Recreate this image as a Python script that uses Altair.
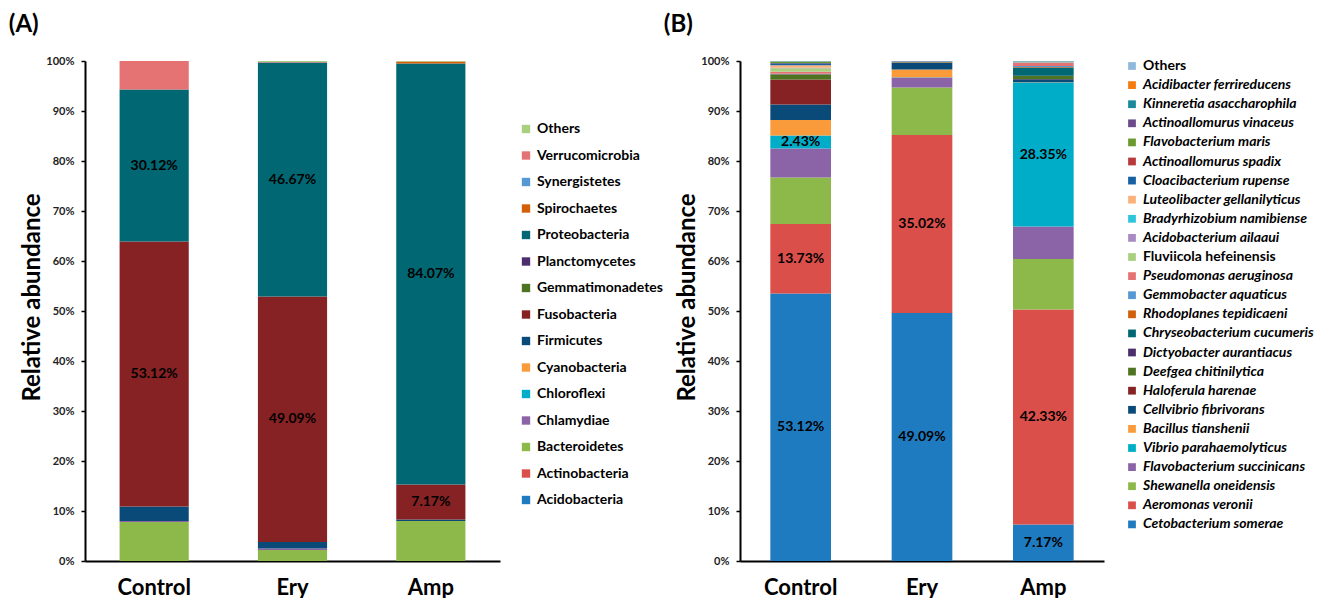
import altair as alt
import pandas as pd

FONT = "Lato"

samples = ["Control", "Ery", "Amp"]

# ---------- Panel A (phylum level), bottom -> top ----------
phyla = ["Acidobacteria", "Actinobacteria", "Bacteroidetes", "Chlamydiae", "Chloroflexi",
         "Cyanobacteria", "Firmicutes", "Fusobacteria", "Gemmatimonadetes", "Planctomycetes",
         "Proteobacteria", "Spirochaetes", "Synergistetes", "Verrucomicrobia", "Others"]
phyla_colors = ["#1F7BC0", "#DA4F4A", "#8DB84A", "#8B64A8", "#00ADC8",
                "#F99A3B", "#0A4A78", "#862224", "#4E7422", "#4B2E6B",
                "#006773", "#D25F0A", "#5598D3", "#E57373", "#A8D080"]
a_control = [0, 0, 7.8, 0.2, 0, 0, 2.9, 53.0, 0, 0, 30.4, 0, 0, 5.7, 0]
a_ery = [0, 0, 2.2, 0.3, 0, 0, 1.3, 49.1, 0, 0, 46.8, 0, 0, 0.1, 0.2]
a_amp = [0, 0, 8.0, 0, 0, 0, 0.3, 7.0, 0, 0, 84.2, 0.4, 0, 0, 0.1]
a_label_sample = ["Control", "Control", "Ery", "Ery", "Amp", "Amp"]
a_label_taxon = ["Fusobacteria", "Proteobacteria", "Fusobacteria", "Proteobacteria",
                 "Fusobacteria", "Proteobacteria"]
a_label_text = ["53.12%", "30.12%", "49.09%", "46.67%", "7.17%", "84.07%"]

# ---------- Panel B (species level), bottom -> top ----------
species = ["Cetobacterium somerae", "Aeromonas veronii", "Shewanella oneidensis",
           "Flavobacterium succinicans", "Vibrio parahaemolyticus", "Bacillus tianshenii",
           "Cellvibrio fibrivorans", "Haloferula harenae", "Deefgea chitinilytica",
           "Dictyobacter aurantiacus", "Chryseobacterium cucumeris", "Rhodoplanes tepidicaeni",
           "Gemmobacter aquaticus", "Pseudomonas aeruginosa", "Fluviicola hefeinensis",
           "Acidobacterium ailaaui", "Bradyrhizobium namibiense", "Luteolibacter gellanilyticus",
           "Cloacibacterium rupense", "Actinoallomurus spadix", "Flavobacterium maris",
           "Actinoallomurus vinaceus", "Kinneretia asaccharophila", "Acidibacter ferrireducens",
           "Others"]
species_colors = ["#1F7BC0", "#DA4F4A", "#8DB84A", "#8B64A8", "#00ADC8", "#F99A3B",
                  "#0A4A78", "#862224", "#4E7422", "#4B2E6B", "#006773", "#D25F0A",
                  "#5598D3", "#E57373", "#A8D080", "#A88BC4", "#2EC4DC", "#FDB07A",
                  "#1661A4", "#B83A3A", "#6A9A2E", "#6A4A8A", "#1A8A9A", "#F57A10",
                  "#8FB8DD"]
b_control = [53.5, 13.9, 9.3, 5.8, 2.6, 3.1, 3.1, 5.0, 0.9, 0.05, 0.1, 0.05, 0.05,
             0.4, 0.7, 0.05, 0.05, 0.5, 0.4, 0.05, 0.3, 0.02, 0.03, 0.02, 0.03]
b_ery = [49.6, 35.6, 9.5, 2.0, 0.05, 1.55, 1.3, 0.05, 0.05, 0.02, 0.05, 0.02, 0.02,
         0.03, 0.03, 0.01, 0.01, 0.02, 0.02, 0.01, 0.02, 0.01, 0.01, 0.01, 0.01]
b_amp = [7.3, 43.0, 10.1, 6.5, 28.8, 0.05, 0.6, 0.05, 0.6, 0.05, 1.65, 0.1, 0.2,
         0.7, 0.05, 0.02, 0.02, 0.03, 0.03, 0.02, 0.03, 0.02, 0.02, 0.02, 0.04]
b_label_sample = ["Control", "Control", "Control", "Ery", "Ery", "Amp", "Amp", "Amp"]
b_label_taxon = ["Cetobacterium somerae", "Aeromonas veronii", "Vibrio parahaemolyticus",
                 "Cetobacterium somerae", "Aeromonas veronii",
                 "Cetobacterium somerae", "Aeromonas veronii", "Vibrio parahaemolyticus"]
b_label_text = ["53.12%", "13.73%", "2.43%", "49.09%", "35.02%", "7.17%", "42.33%", "28.35%"]


def build_df(taxa, columns, lab_s, lab_t, lab_txt):
    labels = {(s, t): txt for s, t, txt in zip(lab_s, lab_t, lab_txt)}
    rows = []
    for s, vals in zip(samples, columns):
        for i, (t, v) in enumerate(zip(taxa, vals)):
            rows.append({"sample": s, "taxon": t, "idx": i, "value": v,
                         "label": labels.get((s, t), "")})
    return pd.DataFrame(rows)


def panel(df, taxa, colors, title, width, legend):
    base = alt.Chart(df).transform_stack(
        stack="value", groupby=["sample"], as_=["v0", "v1"],
        sort=[alt.SortField("idx", order="ascending")])
    x = alt.X("sample:N", sort=samples,
              scale=alt.Scale(paddingInner=0.5, paddingOuter=0.25),
              axis=alt.Axis(title=None, labelAngle=0, ticks=False, labelFontSize=22,
                            labelFontWeight="bold", labelPadding=16, labelFont=FONT,
                            domainWidth=2, domainColor="black", labelColor="black"))
    y = alt.Y("v0:Q", scale=alt.Scale(domain=[0, 100], nice=False, clamp=True),
              axis=alt.Axis(title="Relative abundance", values=list(range(0, 101, 10)),
                            labelExpr="datum.value + '%'", grid=False,
                            labelFontSize=11, labelFontWeight="bold", labelFont=FONT,
                            labelColor="#222", labelPadding=7,
                            domainWidth=2, domainColor="black",
                            tickColor="black", tickWidth=1.5, tickSize=4,
                            titleFontSize=24, titleFont=FONT, titleFontWeight="bold",
                            titleColor="black", titlePadding=1, titleY=236))
    bars = base.mark_bar().encode(
        x=x, y=y, y2="v1:Q",
        color=alt.Color("taxon:N",
                        scale=alt.Scale(domain=taxa[::-1], range=colors[::-1]),
                        legend=legend))
    text = base.transform_filter("datum.label != ''").transform_calculate(
        mid="(datum.v0 + datum.v1) / 2").mark_text(
        font=FONT, fontSize=14, fontWeight="bold", color="black").encode(
        x=alt.X("sample:N", sort=samples), y=alt.Y("mid:Q"), text="label:N")
    return alt.layer(bars, text).properties(
        width=width, height=500,
        title=alt.TitleParams(title, anchor="start", fontSize=24, font=FONT,
                              fontWeight="bold", color="black", dx=-12, offset=18))


legend_a = alt.Legend(title=None, orient="none", legendX=434, legendY=61,
                      symbolType="square", symbolSize=70, symbolStrokeWidth=0,
                      labelFontSize=14, labelFont=FONT, labelFontWeight="bold",
                      labelColor="black", rowPadding=12.5, labelLimit=300)
legend_b = alt.Legend(title=None, orient="none", legendX=385, legendY=-2,
                      symbolType="square", symbolSize=60, symbolStrokeWidth=0,
                      labelFontSize=14, labelFont=FONT, labelFontWeight="bold",
                      labelColor="black", rowPadding=5.1, labelLimit=300,
                      labelFontStyle={"expr": "datum.label == 'Others' || datum.label == 'Fluviicola hefeinensis' ? 'normal' : 'italic'"})

df_a = build_df(phyla, [a_control, a_ery, a_amp], a_label_sample, a_label_taxon, a_label_text)
df_b = build_df(species, [b_control, b_ery, b_amp], b_label_sample, b_label_taxon, b_label_text)

pa = panel(df_a, phyla, phyla_colors, "(A)", 415, legend_a)
pb = panel(df_b, species, species_colors, "(B)", 364, legend_b)

chart = alt.hconcat(pa, pb, spacing=0).resolve_scale(color="independent").properties(
    padding={"left": 0, "top": 5, "right": 0, "bottom": 0}
).configure(background="white", view=alt.ViewConfig(strokeWidth=0))

chart.save("out.html", embed_options={"renderer": "svg", "actions": False})
